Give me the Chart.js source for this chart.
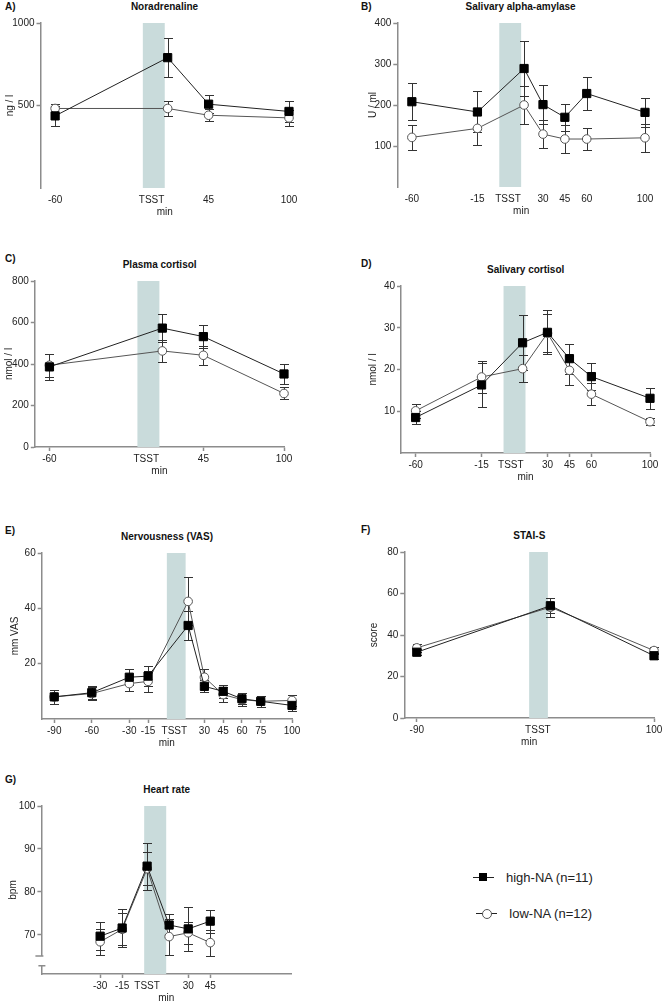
<!DOCTYPE html>
<html>
<head>
<meta charset="utf-8">
<script src="https://cdn.jsdelivr.net/npm/chart.js@4.4.0/dist/chart.umd.min.js"></script>
<style>
  body { margin: 0; background: #fff; width: 662px; height: 1001px; position: relative; overflow: hidden;
         font-family: "Liberation Sans", Arial, Helvetica, sans-serif; color: #111; }
  canvas { position: absolute; }
  .ttl { position: absolute; font-weight: bold; font-size: 10px; white-space: nowrap; transform: translate(-50%, -50%); }
  .lbl { position: absolute; font-weight: bold; font-size: 10px; white-space: nowrap; transform: translateY(-50%); }
  .leg { position: absolute; font-size: 13px; color: #222; white-space: nowrap; transform: translateY(-50%); }
  .legLine { position: absolute; height: 1px; background: #222; }
  .legSq { position: absolute; width: 8px; height: 8px; background: #000; }
  .legCi { position: absolute; width: 8px; height: 8px; border: 1px solid #555; border-radius: 50%; background: #fff; }
</style>
</head>
<body>
<script>
// time of the stress test (TSST), minutes
const tsstStart = 0;
const tsstEnd = 15;

// A) Noradrenaline
const aTimes = [-60, 17, 45, 100];
const aHigh = [437, 790, 508, 464];
const aHighErr = [62, 117, 55, 62];
const aLow = [482, 482, 441, 425];
const aLowErr = [25, 45, 35, 50];
const aTicks = [-60, 6, 45, 100];
const aTickLabels = ['-60', 'TSST', '45', '100'];
const aYTicks = [500, 1000];

// B) Salivary alpha-amylase
const bTimes = [-60, -15, 17, 30, 45, 60, 100];
const bHigh = [208, 183, 289, 201, 170, 228, 182];
const bHighErr = [45, 50, 66, 48, 33, 40, 35];
const bLow = [121, 143, 200, 129, 117, 117, 120];
const bLowErr = [30, 40, 46, 35, 35, 27, 34];
const bTicks = [-60, -15, 6, 30, 45, 60, 100];
const bTickLabels = ['-60', '-15', 'TSST', '30', '45', '60', '100'];
const bYTicks = [100, 200, 300, 400];

// C) Plasma cortisol
const cTimes = [-60, 17, 45, 100];
const cHigh = [386, 573, 532, 352];
const cHighErr = [62, 67, 55, 50];
const cLow = [394, 463, 442, 258];
const cLowErr = [55, 51, 45, 29];
const cTicks = [-60, 6, 45, 100];
const cTickLabels = ['-60', 'TSST', '45', '100'];
const cYTicks = [0, 200, 400, 600, 800];

// D) Salivary cortisol
const dTimes = [-60, -15, 13, 30, 45, 60, 100];
const dHigh = [8.5, 16.3, 26.4, 28.9, 22.6, 18.3, 13.1];
const dHighErr = [1.5, 5.3, 6.6, 5.3, 3.6, 3.2, 2.5];
const dLow = [10.1, 18.2, 20.2, 28.7, 19.8, 14.1, 7.5];
const dLowErr = [1.7, 3.8, 3.3, 4.6, 3.4, 2.6, 0.8];
const dTicks = [-60, -15, 5, 30, 45, 60, 100];
const dTickLabels = ['-60', '-15', 'TSST', '30', '45', '60', '100'];
const dYTicks = [10, 20, 30, 40];

// E) Nervousness (VAS)
const eTimes = [-90, -60, -30, -15, 17, 30, 45, 60, 75, 100];
const eHigh = [8.0, 9.5, 15.1, 15.5, 33.8, 11.8, 10.0, 7.3, 6.4, 4.9];
const eHighErr = [2.5, 2.3, 2.8, 3.5, 5.2, 2.2, 2.3, 2.0, 2.0, 2.0];
const eLow = [8.0, 9.2, 12.8, 13.6, 42.5, 15.1, 8.8, 7.0, 6.4, 6.7];
const eLowErr = [2.5, 2.5, 2.8, 3.7, 8.7, 2.8, 2.7, 2.3, 2.0, 2.0];
const eTicks = [-90, -60, -30, -15, 6, 30, 45, 60, 75, 100];
const eTickLabels = ['-90', '-60', '-30', '-15', 'TSST', '30', '45', '60', '75', '100'];
const eYTicks = [20, 40, 60];

// F) STAI-S
const fTimes = [-90, 17, 100];
const fHigh = [31.7, 54.1, 30.0];
const fHighErr = [1.5, 3.7, 1.5];
const fLow = [33.8, 53.4, 32.5];
const fLowErr = [2.0, 4.5, 1.6];
const fTicks = [-90, 7, 100];
const fTickLabels = ['-90', 'TSST', '100'];
const fYTicks = [0, 20, 40, 60, 80];

// G) Heart rate
const gTimes = [-30, -15, 2, 17, 30, 45];
const gHigh = [69.7, 71.6, 86.0, 72.3, 71.4, 73.2];
const gHighErr = [3.3, 4.4, 5.5, 2.6, 5.2, 2.7];
const gLow = [68.4, 71.3, 85.4, 69.6, 70.5, 68.2];
const gLowErr = [3.0, 3.7, 3.8, 4.2, 2.6, 3.0];
const gTicks = [-30, -15, 2, 30, 45];
const gTickLabels = ['-30', '-15', 'TSST', '30', '45'];
const gYTicks = [70, 80, 90, 100];

const legendLabels = ['high-NA (n=11)', 'low-NA (n=12)'];

const FONT = '"Liberation Sans", Arial, Helvetica, sans-serif';
Chart.defaults.font.family = FONT;
Chart.defaults.font.size = 10;
Chart.defaults.color = '#222';

const AXIS = '#8c8c8c';
const BAND = '#c9dbdb';

// band for the TSST + error bars, drawn under the lines and markers
const stressPlugin = {
  id: 'stress',
  beforeDatasetsDraw(chart) {
    const {ctx, chartArea, scales} = chart;
    const x0 = scales.x.getPixelForValue(tsstStart);
    const x1 = scales.x.getPixelForValue(tsstEnd);
    ctx.save();
    ctx.fillStyle = BAND;
    ctx.fillRect(x0, chartArea.top, x1 - x0, chartArea.bottom - chartArea.top);
    ctx.strokeStyle = '#333';
    ctx.lineWidth = 1;
    chart.data.datasets.forEach(ds => {
      ds.data.forEach((pt, i) => {
        const e = ds.errors[i];
        const px = Math.round(scales.x.getPixelForValue(pt.x)) + 0.5;
        const yt = Math.round(scales.y.getPixelForValue(pt.y + e)) + 0.5;
        const yb = Math.round(scales.y.getPixelForValue(pt.y - e)) + 0.5;
        ctx.beginPath();
        ctx.moveTo(px, yt); ctx.lineTo(px, yb);
        ctx.moveTo(px - 4.5, yt); ctx.lineTo(px + 4.5, yt);
        ctx.moveTo(px - 4.5, yb); ctx.lineTo(px + 4.5, yb);
        ctx.stroke();
      });
    });
    ctx.restore();
  },
  afterDraw(chart, args, opts) {
    // small break in the y axis (heart rate panel)
    if (!opts.brk) return;
    const {ctx, scales} = chart;
    const ax = scales.y.right;
    const y0 = scales.y.getPixelForValue(opts.brk[0]);
    const y1 = scales.y.getPixelForValue(opts.brk[1]);
    ctx.save();
    ctx.fillStyle = '#fff';
    ctx.fillRect(ax - 2, y0, 4, y1 - y0);
    ctx.strokeStyle = AXIS;
    ctx.lineWidth = 1.5;
    ctx.beginPath();
    ctx.moveTo(ax - 6, y0); ctx.lineTo(ax + 2, y0);
    ctx.moveTo(ax - 3, y1); ctx.lineTo(ax + 4, y1);
    ctx.stroke();
    ctx.restore();
  }
};

const panels = [
  {letter: 'A)', title: 'Noradrenaline', yTitle: 'ng / l', titleX: 10, left: 40.5, right: 288.5, top: 22.7, bottom: 187.5,
   xMin: -70, xMax: 100, yMin: 0, yMax: 1000, times: aTimes, high: aHigh, highErr: aHighErr, low: aLow, lowErr: aLowErr,
   ticks: aTicks, tickLabels: aTickLabels, yTicks: aYTicks, letterX: 5, letterDy: 0, noXLine: true},
  {letter: 'B)', title: 'Salivary alpha-amylase', yTitle: 'U / ml', titleX: 372.7, left: 397, right: 644.3, top: 23, bottom: 187,
   xMin: -70, xMax: 100, yMin: 0, yMax: 400, times: bTimes, high: bHigh, highErr: bHighErr, low: bLow, lowErr: bLowErr,
   ticks: bTicks, tickLabels: bTickLabels, yTicks: bYTicks, letterX: 361, letterDy: 0, noXLine: true},
  {letter: 'C)', title: 'Plasma cortisol', yTitle: 'nmol / l', titleX: 9.2, left: 35, right: 284.3, top: 280.8, bottom: 446.7,
   xMin: -70, xMax: 100, yMin: 0, yMax: 800, times: cTimes, high: cHigh, highErr: cHighErr, low: cLow, lowErr: cLowErr,
   ticks: cTicks, tickLabels: cTickLabels, yTicks: cYTicks, letterX: 5, letterDy: -6},
  {letter: 'D)', title: 'Salivary cortisol', yTitle: 'nmol / l', titleX: 373, left: 401, right: 650.3, top: 285.5, bottom: 452.7,
   xMin: -70, xMax: 100, yMin: 0, yMax: 40, times: dTimes, high: dHigh, highErr: dHighErr, low: dLow, lowErr: dLowErr,
   ticks: dTicks, tickLabels: dTickLabels, yTicks: dYTicks, letterX: 361, letterDy: -6},
  {letter: 'E)', title: 'Nervousness (VAS)', yTitle: 'mm VAS', titleX: 15, left: 41.7, right: 292.3, top: 553.3, bottom: 719.5,
   xMin: -100, xMax: 100, yMin: 0, yMax: 60, times: eTimes, high: eHigh, highErr: eHighErr, low: eLow, lowErr: eLowErr,
   ticks: eTicks, tickLabels: eTickLabels, yTicks: eYTicks, letterX: 5, letterDy: -6},
  {letter: 'F)', title: 'STAI-S', yTitle: 'score', titleX: 374, left: 404.3, right: 654.3, top: 551.7, bottom: 717.3,
   xMin: -100, xMax: 100, yMin: 0, yMax: 80, times: fTimes, high: fHigh, highErr: fHighErr, low: fLow, lowErr: fLowErr,
   ticks: fTicks, tickLabels: fTickLabels, yTicks: fYTicks, letterX: 361, letterDy: -6},
  {letter: 'G)', title: 'Heart rate', yTitle: 'bpm', titleX: 13.3, left: 41.7, right: 291.7, top: 806, bottom: 974,
   xMin: -70, xMax: 100, yMin: 60.9, yMax: 100, times: gTimes, high: gHigh, highErr: gHighErr, low: gLow, lowErr: gLowErr,
   ticks: gTicks, tickLabels: gTickLabels, yTicks: gYTicks, letterX: 5, letterDy: -10, brk: [65.1, 62.8]}
];

function addText(cls, text, x, y) {
  const d = document.createElement('div');
  d.className = cls;
  d.textContent = text;
  d.style.left = x + 'px';
  d.style.top = y + 'px';
  document.body.appendChild(d);
  return d;
}

function makePanel(p) {
  const cl = p.titleX - 6;
  const ct = p.top - 10;
  const cw = Math.round(p.right + 14 - cl);
  const ch = Math.round(p.bottom + 30 - ct);
  const canvas = document.createElement('canvas');
  canvas.width = cw; canvas.height = ch;
  canvas.style.left = cl + 'px';
  canvas.style.top = ct + 'px';
  document.body.appendChild(canvas);

  const titleY = p.top - 17;
  addText('ttl', p.title, (p.left + p.right) / 2, titleY);
  addText('lbl', p.letter, p.letterX, titleY + p.letterDy);

  const xTickCol = c => (p.noXLine || p.tickLabels[c.index] === 'TSST') ? 'rgba(0,0,0,0)' : AXIS;

  new Chart(canvas, {
    type: 'line',
    data: {
      datasets: [
        {label: legendLabels[0], data: p.times.map((t, i) => ({x: t, y: p.high[i]})), errors: p.highErr,
         borderColor: '#222', borderWidth: 1, pointStyle: 'rect', pointRadius: 5.8, clip: false,
         pointBackgroundColor: '#000', pointBorderColor: '#000', pointBorderWidth: 1},
        {label: legendLabels[1], data: p.times.map((t, i) => ({x: t, y: p.low[i]})), errors: p.lowErr,
         borderColor: '#555', borderWidth: 1, pointStyle: 'circle', pointRadius: 4.3, clip: false,
         pointBackgroundColor: '#fff', pointBorderColor: '#555', pointBorderWidth: 1}
      ]
    },
    options: {
      responsive: false,
      animation: false,
      layout: {padding: {top: 10, right: 14, left: 0, bottom: 0}},
      plugins: {legend: {display: false}, tooltip: {enabled: false}, stress: {brk: p.brk}},
      scales: {
        x: {
          type: 'linear', min: p.xMin, max: p.xMax,
          afterBuildTicks: s => { s.ticks = p.ticks.map(v => ({value: v})); },
          afterFit: s => { s.height = 30; },
          ticks: {callback: (v, i) => p.tickLabels[i], autoSkip: false, maxRotation: 0, padding: 2, color: '#222'},
          grid: {drawOnChartArea: false, tickLength: 4, color: xTickCol, tickColor: xTickCol, tickWidth: 1.5},
          border: {display: !p.noXLine, color: AXIS, width: 1.5},
          title: {display: true, text: 'min', padding: 0, color: '#222'}
        },
        y: {
          min: p.yMin, max: p.yMax,
          afterBuildTicks: s => { s.ticks = p.yTicks.map(v => ({value: v})); },
          afterFit: s => { s.width = p.left - cl; },
          ticks: {padding: 2, color: '#222', callback: v => String(v)},
          grid: {drawOnChartArea: false, tickLength: 4, color: AXIS, tickWidth: 1.5},
          border: {color: AXIS, width: 1.5},
          title: {display: true, text: p.yTitle, padding: 0, color: '#222'}
        }
      }
    },
    plugins: [stressPlugin]
  });
}

panels.forEach(makePanel);

// legend (beside the heart rate panel)
function legendRow(y, lineX, markerX, textX, cls, text) {
  const ln = document.createElement('div');
  ln.className = 'legLine';
  ln.style.left = lineX + 'px'; ln.style.top = Math.round(y) + 'px'; ln.style.width = '21px';
  document.body.appendChild(ln);
  const mk = document.createElement('div');
  mk.className = cls;
  mk.style.left = (markerX - 4.5) + 'px'; mk.style.top = (Math.round(y) - 4) + 'px';
  document.body.appendChild(mk);
  addText('leg', text, textX, y);
}
legendRow(876.7, 472.7, 483, 506, 'legSq', legendLabels[0]);
legendRow(913, 476, 486, 509.3, 'legCi', legendLabels[1]);
</script>
</body>
</html>
